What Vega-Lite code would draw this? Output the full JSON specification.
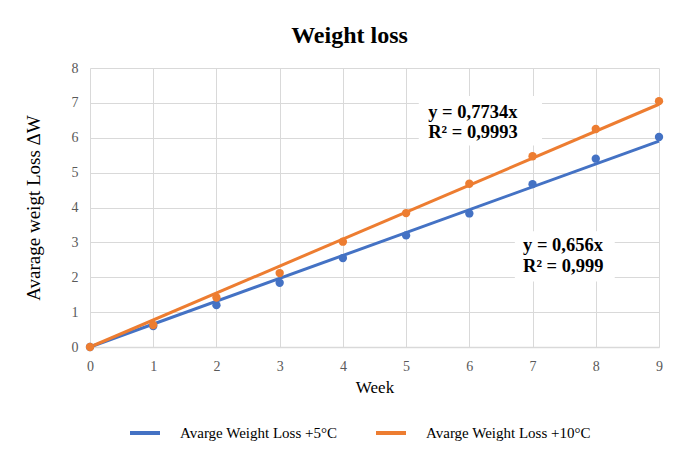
{
  "$schema": "https://vega.github.io/schema/vega-lite/v6.json",
  "autosize": {"type": "none"},
  "padding": {"left": 90, "top": 68, "right": 20, "bottom": 111},
  "width": 569,
  "height": 279,
  "background": "white",
  "title": {"text": "Weight loss", "font": "Liberation Serif", "fontSize": 24, "fontWeight": "bold", "color": "#000000", "anchor": "middle", "dx": -25, "offset": 13},
  "datasets": {
    "pts": [
      {"week": 0, "loss": 0, "series": "Avarge Weight Loss +5°C"},
      {"week": 1, "loss": 0.6, "series": "Avarge Weight Loss +5°C"},
      {"week": 2, "loss": 1.2, "series": "Avarge Weight Loss +5°C"},
      {"week": 3, "loss": 1.84, "series": "Avarge Weight Loss +5°C"},
      {"week": 4, "loss": 2.55, "series": "Avarge Weight Loss +5°C"},
      {"week": 5, "loss": 3.2, "series": "Avarge Weight Loss +5°C"},
      {"week": 6, "loss": 3.83, "series": "Avarge Weight Loss +5°C"},
      {"week": 7, "loss": 4.67, "series": "Avarge Weight Loss +5°C"},
      {"week": 8, "loss": 5.4, "series": "Avarge Weight Loss +5°C"},
      {"week": 9, "loss": 6.02, "series": "Avarge Weight Loss +5°C"},
      {"week": 0, "loss": 0, "series": "Avarge Weight Loss +10°C"},
      {"week": 1, "loss": 0.63, "series": "Avarge Weight Loss +10°C"},
      {"week": 2, "loss": 1.42, "series": "Avarge Weight Loss +10°C"},
      {"week": 3, "loss": 2.12, "series": "Avarge Weight Loss +10°C"},
      {"week": 4, "loss": 3.02, "series": "Avarge Weight Loss +10°C"},
      {"week": 5, "loss": 3.84, "series": "Avarge Weight Loss +10°C"},
      {"week": 6, "loss": 4.68, "series": "Avarge Weight Loss +10°C"},
      {"week": 7, "loss": 5.47, "series": "Avarge Weight Loss +10°C"},
      {"week": 8, "loss": 6.25, "series": "Avarge Weight Loss +10°C"},
      {"week": 9, "loss": 7.05, "series": "Avarge Weight Loss +10°C"}
    ],
    "trend": [
      {"week": 0, "loss": 0, "series": "Avarge Weight Loss +5°C"},
      {"week": 9, "loss": 5.904, "series": "Avarge Weight Loss +5°C"},
      {"week": 0, "loss": 0, "series": "Avarge Weight Loss +10°C"},
      {"week": 9, "loss": 6.9606, "series": "Avarge Weight Loss +10°C"}
    ],
    "boxes": [
      {"x1": 5.2, "x2": 7.15, "y1": 5.78, "y2": 7.2},
      {"x1": 6.72, "x2": 8.3, "y1": 1.88, "y2": 3.32}
    ],
    "ann": [
      {"week": 5.35, "loss": 6.74, "label": "y = 0,7734x"},
      {"week": 5.35, "loss": 6.16, "label": "R² = 0,9993"},
      {"week": 6.85, "loss": 2.92, "label": "y = 0,656x"},
      {"week": 6.85, "loss": 2.32, "label": "R² = 0,999"}
    ]
  },
  "layer": [
    {
      "data": {"name": "boxes"},
      "mark": {"type": "rect", "fill": "white"},
      "encoding": {
        "x": {"field": "x1", "type": "quantitative", "scale": {"domain": [0, 9]}},
        "x2": {"field": "x2"},
        "y": {"field": "y1", "type": "quantitative", "scale": {"domain": [0, 8]}},
        "y2": {"field": "y2"}
      }
    },
    {
      "data": {"name": "trend"},
      "mark": {"type": "line", "strokeWidth": 3},
      "encoding": {
        "x": {"field": "week", "type": "quantitative", "scale": {"domain": [0, 9]}},
        "y": {"field": "loss", "type": "quantitative", "scale": {"domain": [0, 8]}},
        "color": {"field": "series", "type": "nominal",
          "scale": {"domain": ["Avarge Weight Loss +5°C", "Avarge Weight Loss +10°C"], "range": ["#4472C4", "#ED7D31"]},
          "legend": {"orient": "none", "legendX": 38, "legendY": 348, "direction": "horizontal", "title": null,
            "symbolType": "stroke", "symbolSize": 900, "symbolStrokeWidth": 4, "labelFont": "Liberation Serif",
            "labelFontSize": 15, "labelColor": "#000000", "labelOffset": 18, "columnPadding": 30, "labelLimit": 300, "padding": 0}}
      }
    },
    {
      "data": {"name": "pts"},
      "mark": {"type": "circle", "size": 70, "opacity": 1},
      "encoding": {
        "x": {"field": "week", "type": "quantitative", "title": "Week", "scale": {"domain": [0, 9]}},
        "y": {"field": "loss", "type": "quantitative", "title": "Avarage weigt Loss ΔW", "scale": {"domain": [0, 8]}},
        "color": {"field": "series", "type": "nominal"}
      }
    },
    {
      "data": {"name": "ann"},
      "mark": {"type": "text", "font": "Liberation Serif", "fontSize": 18.5, "fontWeight": "bold", "color": "#000000", "align": "left", "baseline": "middle"},
      "encoding": {
        "x": {"field": "week", "type": "quantitative"},
        "y": {"field": "loss", "type": "quantitative"},
        "text": {"field": "label"}
      }
    }
  ],
  "config": {
    "view": {"stroke": null},
    "axis": {
      "grid": true, "gridColor": "#D9D9D9", "gridWidth": 1,
      "domainColor": "#D9D9D9", "domainWidth": 1.5,
      "ticks": false,
      "labelFont": "Liberation Serif", "labelFontSize": 14, "labelColor": "#595959",
      "titleFont": "Liberation Serif", "titleFontWeight": "normal", "titleColor": "#000000"
    },
    "axisX": {"tickCount": 9, "labelPadding": 12, "titleFontSize": 17, "titlePadding": 6, "labelFlush": false},
    "axisY": {"tickCount": 8, "labelPadding": 12, "titleFontSize": 19, "titlePadding": 28, "domain": false}
  }
}
